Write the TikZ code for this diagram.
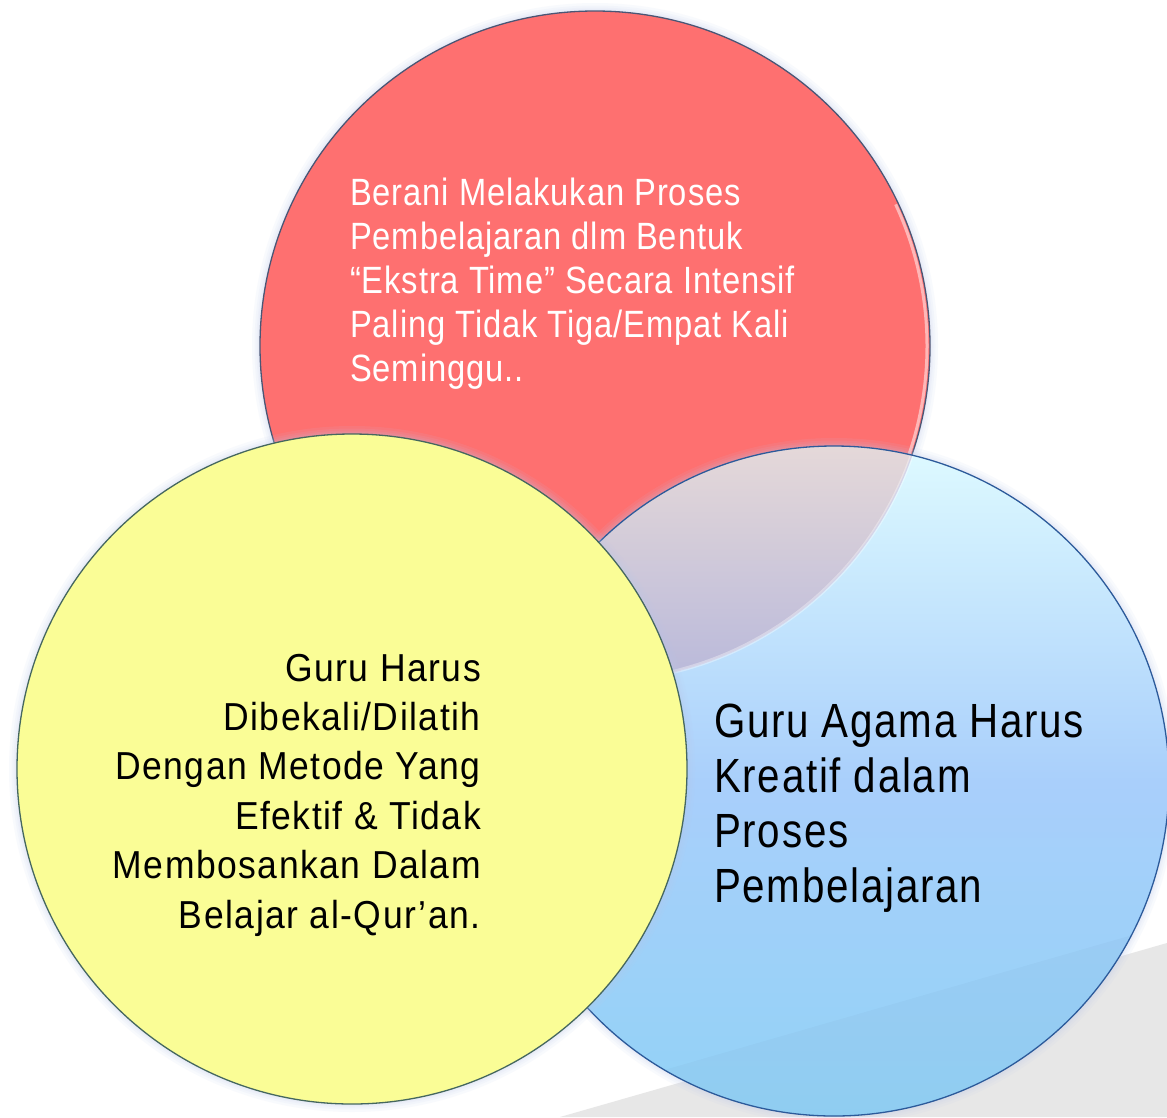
\documentclass[tikz,border=0pt]{standalone}
\usepackage{fontspec}
\setmainfont{Liberation Sans}
\newfontfamily\redfont[FakeStretch=0.86,LetterSpace=2.4]{Liberation Sans}
\newfontfamily\yellowfont[FakeStretch=0.91,LetterSpace=3.9]{Liberation Sans}
\newfontfamily\bluefont[FakeStretch=0.84,LetterSpace=3.6]{Liberation Sans}
\definecolor{redfill}{HTML}{FE7070}
\definecolor{yellowfill}{HTML}{FAFD96}
\definecolor{bluetop}{HTML}{DEFAFF}
\definecolor{bluemid}{HTML}{A9CFFB}
\definecolor{bluebot}{HTML}{92D2F6}
\definecolor{lenstop}{HTML}{E6D9D9}
\definecolor{lensbot}{HTML}{B9B9DA}
\definecolor{redrim}{HTML}{4A5675}
\definecolor{bluerim}{HTML}{2C5A9A}
\definecolor{yellowrim}{HTML}{45675F}
\definecolor{glowc}{HTML}{BCC8EC}
\definecolor{floorgray}{HTML}{E7E7E7}
\begin{document}
\begin{tikzpicture}[x=1pt,y=-1pt,
  glow/.style={draw=glowc,line width=#1,opacity=0.09},
  rim/.style={draw=#1,line width=1.3pt},
  redtxt/.style={font=\redfont\fontsize{38}{44}\selectfont,text=white,align=left,inner sep=0pt},
  yellowtxt/.style={font=\yellowfont\fontsize{39}{49.4}\selectfont,text=black,align=right,inner sep=0pt},
  bluetxt/.style={font=\bluefont\fontsize{48}{55}\selectfont,text=black,align=left,inner sep=0pt}]
\useasboundingbox (0,0) rectangle (1167,1117);
\fill[white] (0,0) rectangle (1167,1117);

% circle centres
\coordinate (cR) at (595,346);
\coordinate (cY) at (352,769);
\coordinate (cB) at (834,781);
\def\rad{335pt}

% soft grey floor reflection in the lower right
\fill[floorgray] (1167,943) -- (560,1117) -- (1167,1117) -- cycle;
\draw[white,line width=4pt,opacity=0.8] (1167,938) -- (900,1015);

% red circle
\foreach \w in {16,11,7,4} \draw[glow=\w pt] (cR) circle (\rad);
\fill[redfill] (cR) circle (\rad);
\draw[rim=redrim] (cR) circle (\rad);
\begin{scope}
  \clip (cR) circle (\rad);
  \draw[white,line width=3pt,opacity=0.5] ([xshift=-3pt]cR) ++(-20:\rad) arc (-20:25:\rad);
\end{scope}

% blue circle
\foreach \w in {16,11,7,4} \draw[glow=\w pt] (cB) circle (\rad);
\shade[top color=bluetop,bottom color=bluebot,middle color=bluemid] (cB) circle (\rad);
\begin{scope}
  \clip (cB) circle (\rad);
  \fill[black,opacity=0.02] (1167,925) -- (560,1100) -- (560,1117) -- (1167,1117) -- cycle;
  \begin{scope}
    \clip (cR) circle (\rad);
    \shade[top color=lenstop,bottom color=lensbot] (560,440) rectangle (940,680);
  \end{scope}
  \draw[white,line width=4pt,opacity=0.35] (cR) circle (\rad);
  \draw[color=lensbot!60!white,line width=1.2pt] (cR) circle (\rad);
\end{scope}
\draw[rim=bluerim] (cB) circle (\rad);

% yellow circle
\foreach \w in {16,11,7,4} \draw[glow=\w pt] (cY) circle (\rad);
\fill[yellowfill] (cY) circle (\rad);
\draw[rim=yellowrim] (cY) circle (\rad);

% labels (the base anchor sits on the last line)
\node[redtxt,anchor=base west] (tRed) at (350,381)
  {Berani Melakukan Proses\\Pembelajaran dlm Bentuk\\“Ekstra Time” Secara Intensif\\Paling Tidak Tiga/Empat Kali\\Seminggu..};
\node[yellowtxt,anchor=base east] (tYellow) at (481,928)
  {Guru Harus\\Dibekali/Dilatih\\Dengan Metode Yang\\Efektif \& Tidak\\Membosankan Dalam\\Belajar al-Qur’an.};
\node[bluetxt,anchor=base west] (tBlue) at (714,902)
  {Guru Agama Harus\\Kreatif dalam\\Proses\\Pembelajaran};
\end{tikzpicture}
\end{document}
